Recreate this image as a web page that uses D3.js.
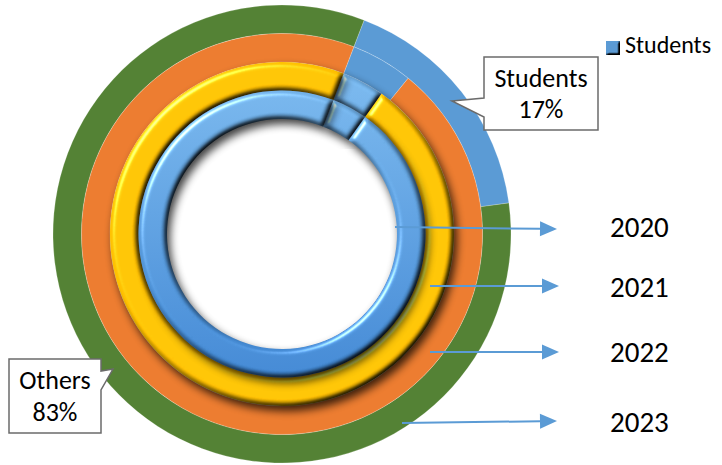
<!DOCTYPE html>
<html>
<head>
<meta charset="utf-8">
<script src="https://cdn.jsdelivr.net/npm/d3@7"></script>
<style>
  html, body { margin: 0; padding: 0; background: #fff; }
  svg { display: block; }
  text { font-family: Carlito, "Open Sans", sans-serif; fill: #000; }
</style>
</head>
<body>
<div id="chart"></div>
<script>
// ---- data ----
const years = ["2020", "2021", "2022", "2023"];
const categories = ["Students", "Others"];
const students = [4, 4, 5, 17];
const others = [96, 96, 95, 83];
const otherColors = ["#5B9BD5", "#FFC000", "#ED7D31", "#548235"];
const studentColor = "#5B9BD5";
const bevelRings = ["2020", "2021"];
const labelYear = "2023";

// ---- layout ----
const W = 722, H = 465;
const cx = 282, cy = 234;
const startDeg = 21;

const svg = d3.select("#chart").append("svg")
  .attr("width", W).attr("height", H);

const defs = svg.append("defs");

// bevel + shadow filter
const f = defs.append("filter").attr("id", "bevel")
  .attr("x", "-20%").attr("y", "-20%").attr("width", "140%").attr("height", "140%")
  .attr("color-interpolation-filters", "sRGB");
f.append("feGaussianBlur").attr("in", "SourceAlpha").attr("stdDeviation", 2.6).attr("result", "blur");
const dl = f.append("feDiffuseLighting").attr("in", "blur").attr("surfaceScale", 3.2)
  .attr("diffuseConstant", 1.3).attr("lighting-color", "#fff").attr("result", "diff");
dl.append("feDistantLight").attr("azimuth", 225).attr("elevation", 50);
f.append("feComposite").attr("in", "SourceGraphic").attr("in2", "diff")
  .attr("operator", "arithmetic").attr("k1", 1).attr("k2", 0).attr("k3", 0).attr("k4", 0).attr("result", "shaded");
const sl = f.append("feSpecularLighting").attr("in", "blur").attr("surfaceScale", 3.2)
  .attr("specularConstant", 0.6).attr("specularExponent", 30).attr("lighting-color", "#fff").attr("result", "spec");
sl.append("feDistantLight").attr("azimuth", 225).attr("elevation", 40);
f.append("feComposite").attr("in", "spec").attr("in2", "SourceAlpha").attr("operator", "in").attr("result", "specIn");
f.append("feComposite").attr("in", "shaded").attr("in2", "specIn")
  .attr("operator", "arithmetic").attr("k1", 0).attr("k2", 1).attr("k3", 1).attr("k4", 0).attr("result", "lit");
f.append("feGaussianBlur").attr("in", "SourceAlpha").attr("stdDeviation", 4.5).attr("result", "sb");
f.append("feOffset").attr("in", "sb").attr("dx", 3).attr("dy", 5).attr("result", "so");
const ct = f.append("feComponentTransfer").attr("in", "so").attr("result", "sa");
ct.append("feFuncA").attr("type", "linear").attr("slope", 0.75);
const mg = f.append("feMerge");
mg.append("feMergeNode").attr("in", "sa");
mg.append("feMergeNode").attr("in", "lit");

// small bevel for legend marker
const f2 = defs.append("filter").attr("id", "bevelSmall")
  .attr("color-interpolation-filters", "sRGB");
f2.append("feGaussianBlur").attr("in", "SourceAlpha").attr("stdDeviation", 1.2).attr("result", "blur");
const dl2 = f2.append("feDiffuseLighting").attr("in", "blur").attr("surfaceScale", 3)
  .attr("diffuseConstant", 1.3).attr("lighting-color", "#fff").attr("result", "diff");
dl2.append("feDistantLight").attr("azimuth", 225).attr("elevation", 50);
f2.append("feComposite").attr("in", "SourceGraphic").attr("in2", "diff")
  .attr("operator", "arithmetic").attr("k1", 1).attr("k2", 0).attr("k3", 0).attr("k4", 0);

// ring radius scale
const rScale = d3.scaleBand().domain(years).range([115, 229]).paddingInner(0);

// blue gradient for bevelled blue slices
const outerBlue = rScale("2020") + rScale.bandwidth();
const bg = defs.append("linearGradient").attr("id", "blueGrad")
  .attr("gradientUnits", "userSpaceOnUse")
  .attr("x1", 0).attr("y1", -outerBlue).attr("x2", 0).attr("y2", outerBlue);
bg.append("stop").attr("offset", 0).attr("stop-color", "#72B1E7");
bg.append("stop").attr("offset", 1).attr("stop-color", "#3E84CF");

const pie = d3.pie().sort(null).value(d => d.value)
  .startAngle(startDeg * Math.PI / 180)
  .endAngle(startDeg * Math.PI / 180 + 2 * Math.PI);

const g = svg.append("g").attr("transform", `translate(${cx},${cy})`);

// draw outer rings first, inner (bevelled) rings last so shadows fall outward
const order = years.map((y, i) => i).reverse();
order.forEach(i => {
  const yr = years[i];
  const data = [
    { cat: categories[0], value: students[i], color: studentColor },
    { cat: categories[1], value: others[i], color: otherColors[i] }
  ];
  const arc = d3.arc()
    .innerRadius(rScale(yr))
    .outerRadius(rScale(yr) + rScale.bandwidth());
  const bevel = bevelRings.includes(yr);
  const rg = g.append("g").attr("class", "ring-" + yr);
  rg.selectAll("path").data(pie(data)).join("path")
    .attr("d", arc)
    .attr("fill", d => (bevel && d.data.color === studentColor) ? "url(#blueGrad)" : d.data.color)
    .attr("stroke", bevel ? "none" : "#ffffff")
    .attr("stroke-opacity", 0.35)
    .attr("stroke-width", 0.6)
    .attr("filter", bevel ? "url(#bevel)" : null);
});

// ---- callouts for the outer ring ----
function callout(pts, lines, tx, ty, lh) {
  svg.append("path")
    .attr("d", d3.line()(pts) + "Z")
    .attr("fill", "#fff").attr("stroke", "#6b6b6b").attr("stroke-width", 1.5)
    .attr("stroke-linejoin", "miter");
  lines.forEach((t, k) => {
    svg.append("text").attr("x", tx).attr("y", ty + k * lh)
      .attr("text-anchor", "middle").attr("font-size", 26).text(t);
  });
}
const li = years.indexOf(labelYear);
callout([[484, 57], [598, 57], [598, 130], [484, 130], [484, 117], [452, 101], [484, 98]],
  [categories[0], students[li] + "%"], 541, 87, 31);
callout([[9, 359], [101, 359], [101, 371], [113, 369], [101, 390], [101, 433], [9, 433]],
  [categories[1], others[li] + "%"], 55, 389, 32);

// ---- legend ----
svg.append("rect").attr("x", 606).attr("y", 41).attr("width", 14).attr("height", 14)
  .attr("fill", studentColor).attr("filter", "url(#bevelSmall)");
svg.append("text").attr("x", 625).attr("y", 53).attr("font-size", 24).text(categories[0]);

// ---- year arrows & labels ----
const arrowStarts = [[395, 227], [430, 286], [430, 352], [402, 423]];
const arrowEnds = [[557, 229], [559, 286], [559, 352], [557, 421]];
const labelBase = [237, 297, 362, 432];
years.forEach((yr, i) => {
  const [x0, y0] = arrowStarts[i];
  const [x1, y1] = arrowEnds[i];
  const ang = Math.atan2(y1 - y0, x1 - x0);
  const hl = 17, hw = 7.5;
  const bx = x1 - hl * Math.cos(ang), by = y1 - hl * Math.sin(ang);
  svg.append("line").attr("x1", x0).attr("y1", y0).attr("x2", bx).attr("y2", by)
    .attr("stroke", "#5B9BD5").attr("stroke-width", 2);
  svg.append("path")
    .attr("d", d3.line()([
      [x1, y1],
      [bx - hw * Math.sin(ang), by + hw * Math.cos(ang)],
      [bx + hw * Math.sin(ang), by - hw * Math.cos(ang)]
    ]) + "Z")
    .attr("fill", "#5B9BD5");
  svg.append("text").attr("x", 610).attr("y", labelBase[i]).attr("font-size", 29).text(yr);
});
</script>
</body>
</html>
